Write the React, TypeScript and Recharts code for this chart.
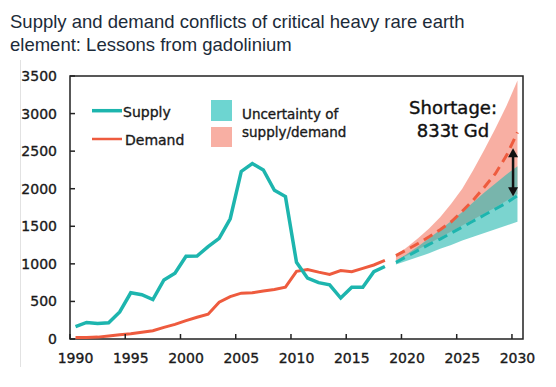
import {
  Area,
  ComposedChart,
  Line,
  ReferenceArea,
  ReferenceLine,
  XAxis,
  YAxis,
} from "recharts";

const histYears = [
  1990, 1991, 1992, 1993, 1994, 1995, 1996, 1997, 1998, 1999, 2000, 2001,
  2002, 2003, 2004, 2005, 2006, 2007, 2008, 2009, 2010, 2011, 2012, 2013,
  2014, 2015, 2016, 2017, 2018,
];
const supply = [
  165, 220, 205, 215, 360, 615, 590, 525, 785, 875, 1100, 1105, 1230, 1340,
  1600, 2230, 2335, 2250, 1980, 1895, 1020, 810, 750, 720, 545, 690, 690, 895,
  965,
];
const demand = [
  20, 20, 25, 40, 55, 70, 90, 110, 155, 195, 245, 290, 330, 490, 565, 610,
  615, 640, 660, 690, 900, 925, 890, 860, 910, 895, 940, 985, 1045,
];

const projYears = [
  2019, 2020, 2021, 2022, 2023, 2024, 2025, 2026, 2027, 2028, 2029, 2030,
];
const supplyProj = [
  1020, 1100, 1180, 1260, 1330, 1410, 1490, 1570, 1650, 1730, 1810, 1910,
];
const demandProj = [
  1110, 1190, 1270, 1360, 1455, 1560, 1700, 1850, 2020, 2200, 2440, 2750,
];
const supplyLow = [
  990, 1040, 1090, 1140, 1200, 1250, 1310, 1360, 1410, 1460, 1510, 1560,
];
const supplyHigh = [
  1040, 1130, 1230, 1340, 1450, 1570, 1690, 1820, 1950, 2070, 2190, 2300,
];
const demandLow = [
  1040, 1110, 1190, 1270, 1350, 1430, 1510, 1590, 1670, 1750, 1840, 1930,
];
const demandHigh = [
  1110, 1220, 1340, 1470, 1620, 1800, 2000, 2250, 2520, 2800, 3100, 3440,
];

const xTicks = [1990, 1995, 2000, 2005, 2010, 2015, 2020, 2025, 2030];
const yTicks = [0, 500, 1000, 1500, 2000, 2500, 3000, 3500];

// shortage arrow at the end of the projection
const arrowYear = 2029.6;
const arrowFrom = 1900;
const arrowTo = 2540;

const W = 556;
const H = 387;
const MARGIN = { top: 76, right: 33, bottom: 0, left: 0 };
const Y_W = 70;
const X_H = 48;
const X_MIN = 1989.5;
const X_MAX = 2030.5;
const HALF = (W - MARGIN.right - MARGIN.left - Y_W) / (X_MAX - X_MIN) / 2;
const AXIS_Y = H - X_H;

const TEAL = "#1db5ae";
const RED = "#ee5b3e";
const INK = "#1a1a1a";
const FONT = "'DejaVu Sans', sans-serif";
// a hairline stroke to thicken the labels a bit
const bold = { stroke: INK, strokeWidth: 0.35 };

const rows = [
  ...histYears.map((year, i) => ({
    year,
    supply: supply[i],
    demand: demand[i],
  })),
  ...projYears.map((year, i) => ({
    year,
    supplyProj: supplyProj[i],
    demandProj: demandProj[i],
    supplyBand: [supplyLow[i], supplyHigh[i]],
    demandBand: [demandLow[i], demandHigh[i]],
  })),
];

const XTick = ({ x, y, payload }: any) => (
  <g>
    <line
      x1={x - HALF}
      x2={x - HALF}
      y1={AXIS_Y}
      y2={AXIS_Y - 5}
      stroke="#222"
      strokeWidth={1.5}
    />
    <text
      x={x}
      y={y + 24}
      textAnchor="middle"
      fontFamily={FONT}
      fontSize={14}
      fill={INK}
      {...bold}
    >
      {payload.value}
    </text>
  </g>
);

const YTick = ({ x, y, payload }: any) => (
  <g>
    <line x1={x} x2={x + 5} y1={y} y2={y} stroke="#222" strokeWidth={1.5} />
    <text
      x={x - 13}
      y={y}
      dy="0.36em"
      textAnchor="end"
      fontFamily={FONT}
      fontSize={14}
      fill={INK}
      {...bold}
    >
      {payload.value}
    </text>
  </g>
);

const Arrow = (props: any) => {
  const { x1, y1, x2, y2 } = props;
  const top = Math.min(y1, y2);
  const bot = Math.max(y1, y2);
  return (
    <g>
      <line x1={x1} x2={x2} y1={top + 6} y2={bot - 6} stroke="#111" strokeWidth={2.5} />
      <polygon points={`${x1},${top} ${x1 - 5},${top + 9} ${x1 + 5},${top + 9}`} fill="#111" />
      <polygon points={`${x1},${bot} ${x1 - 5},${bot - 9} ${x1 + 5},${bot - 9}`} fill="#111" />
    </g>
  );
};

export default function App() {
  return (
    <div
      style={{
        position: "fixed",
        left: 0,
        top: 0,
        width: W,
        height: H,
        background: "#fff",
        overflow: "hidden",
      }}
    >
      <div
        style={{
          position: "absolute",
          left: 10,
          top: 11,
          fontFamily: "'Liberation Sans', Arial, sans-serif",
          fontSize: 18.5,
          lineHeight: "22.7px",
          color: "#1c2b39",
          whiteSpace: "nowrap",
        }}
      >
        Supply and demand conflicts of critical heavy rare earth
        <br />
        element: Lessons from gadolinium
      </div>
      <div
        style={{
          position: "absolute",
          left: 20,
          top: 60,
          width: 1,
          height: 307,
          background: "#e2e2e2",
        }}
      />
      <div style={{ position: "absolute", left: 0, top: 0 }}>
        <ComposedChart width={W} height={H} data={rows} margin={MARGIN}>
          <XAxis
            type="number"
            dataKey="year"
            domain={[X_MIN, X_MAX]}
            ticks={xTicks}
            interval={0}
            height={X_H}
            tickSize={0}
            tickMargin={0}
            axisLine={false}
            tickLine={false}
            tick={XTick}
          />
          <YAxis
            domain={[0, 3500]}
            ticks={yTicks}
            interval={0}
            width={Y_W}
            tickSize={0}
            tickMargin={0}
            axisLine={false}
            tickLine={false}
            tick={YTick}
          />
          <Area
            dataKey="demandBand"
            stroke="none"
            fill="#f26d57"
            fillOpacity={0.55}
            isAnimationActive={false}
          />
          <Area
            dataKey="supplyBand"
            stroke="none"
            fill="#2abab2"
            fillOpacity={0.62}
            isAnimationActive={false}
          />
          <Line
            dataKey="demand"
            stroke={RED}
            strokeWidth={3}
            dot={false}
            isAnimationActive={false}
          />
          <Line
            dataKey="supply"
            stroke={TEAL}
            strokeWidth={3.5}
            dot={false}
            isAnimationActive={false}
          />
          <Line
            dataKey="demandProj"
            stroke={RED}
            strokeWidth={3}
            strokeDasharray="10 6"
            dot={false}
            isAnimationActive={false}
          />
          <Line
            dataKey="supplyProj"
            stroke={TEAL}
            strokeWidth={3}
            strokeDasharray="10 6"
            dot={false}
            isAnimationActive={false}
          />
          <ReferenceLine
            segment={[
              { x: arrowYear, y: arrowFrom },
              { x: arrowYear, y: arrowTo },
            ]}
            shape={Arrow}
          />
          <ReferenceArea
            x1={X_MIN}
            x2={X_MAX}
            y1={0}
            y2={3500}
            fill="none"
            stroke="#222"
            strokeWidth={1.5}
          />
        </ComposedChart>
      </div>
      <svg
        width={W}
        height={H}
        style={{ position: "absolute", left: 0, top: 0, pointerEvents: "none" }}
        fontFamily={FONT}
      >
        <line x1={92} x2={122} y1={110.7} y2={110.7} stroke={TEAL} strokeWidth={3.5} />
        <text x={123} y={116.5} fontSize={14} fill={INK} {...bold}>Supply</text>
        <line x1={92} x2={122} y1={139} y2={139} stroke={RED} strokeWidth={2.5} />
        <text x={125} y={144.5} fontSize={14} fill={INK} {...bold}>Demand</text>
        <rect x={211} y={100} width={21} height={21} fill="#6dd5d1" />
        <rect x={211} y={127} width={21} height={20} fill="#f8afa3" />
        <text x={242} y={118.5} fontSize={13.5} fill={INK} {...bold}>Uncertainty of</text>
        <text x={242} y={137} fontSize={13.5} fill={INK} {...bold}>supply/demand</text>
        <text x={453} y={113.5} fontSize={18} textAnchor="middle" fill="#111" stroke="#111" strokeWidth={0.4}>Shortage:</text>
        <text x={453} y={137} fontSize={18} textAnchor="middle" fill="#111" stroke="#111" strokeWidth={0.4}>833t Gd</text>
      </svg>
    </div>
  );
}
